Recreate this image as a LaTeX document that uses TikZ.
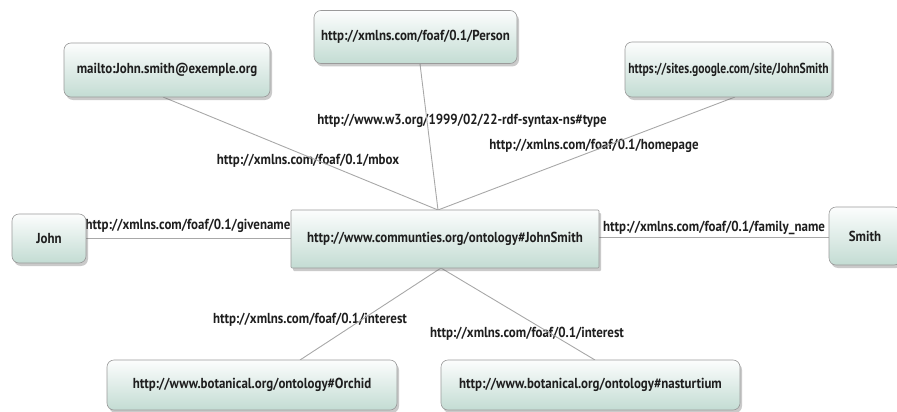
\documentclass[tikz,border=0pt]{standalone}
\usepackage{fontspec}
\newfontfamily\lbl[FakeStretch=0.89]{PT Sans Bold}
\newfontfamily\lblnarrow[FakeStretch=0.80]{PT Sans Bold}
\usetikzlibrary{shadows}
\definecolor{boxbot}{HTML}{C3DCD3}
\definecolor{boxtop}{HTML}{FCFDFD}
\definecolor{linegray}{HTML}{A8A8A8}
\definecolor{bordergray}{HTML}{9A9A9A}
\definecolor{txt}{HTML}{1E1E1E}
\tikzset{
  box/.style={draw=bordergray, line width=0.6pt, rounded corners=7pt, top color=boxtop, bottom color=boxbot,
    drop shadow={shadow xshift=2pt, shadow yshift=-3pt, opacity=0.35, fill=black!60},
    inner sep=0pt, text=txt, font=\lbl\fontsize{14.5}{16}\selectfont, align=center},
  hubbox/.style={box, rounded corners=1pt},
  narrowtext/.style={font=\lblnarrow\fontsize{14.5}{16}\selectfont},
  edge/.style={draw=linegray, line width=0.9pt},
  lab/.style={text=txt, font=\lbl\fontsize{14.5}{16}\selectfont, inner sep=0pt}
}
\begin{document}
\begin{tikzpicture}[x=1pt,y=-1pt]
\useasboundingbox (0,0) rectangle (897,412);
% hub points and line ends
\coordinate (hubT) at (438,210);
\coordinate (hubB) at (441,268);
\coordinate (mailE) at (163,97);
\coordinate (persE) at (420,64);
\coordinate (googE) at (735,97);
\coordinate (orchE) at (300,360);
\coordinate (nastE) at (595,360);
\coordinate (johnE) at (86,238);
\coordinate (smithE) at (829,237);
\coordinate (cenL) at (291,238);
\coordinate (cenR) at (599,237);
% labels
\node[lab] (lgiv) at (188,226) {http://xmlns.com/foaf/0.1/givename};
\node[lab] (lfam) at (714,228) {http://xmlns.com/foaf/0.1/family\_name};
\node[lab] (lmbox) at (308,161) {http://xmlns.com/foaf/0.1/mbox};
\node[lab] (ltype) at (462,121) {http://www.w3.org/1999/02/22-rdf-syntax-ns\#type};
\node[lab] (lhome) at (594,146) {http://xmlns.com/foaf/0.1/homepage};
\node[lab] (lint1) at (310,320) {http://xmlns.com/foaf/0.1/interest};
\node[lab] (lint2) at (527,334) {http://xmlns.com/foaf/0.1/interest};
% edges
\draw[edge] (hubT) -- (mailE);
\draw[edge] (hubT) -- (persE);
\draw[edge] (hubT) -- (googE);
\draw[edge] (hubB) -- (orchE);
\draw[edge] (hubB) -- (nastE);
\draw[edge] (johnE) -- (cenL);
\draw[edge] (cenR) -- (smithE);
% boxes
\node[hubbox, minimum width=308pt, minimum height=58pt] (cen) at (445,239) {http://www.communties.org/ontology\#JohnSmith};
\node[box, minimum width=74pt, minimum height=49pt] (john) at (49,238.5) {John};
\node[box, minimum width=72pt, minimum height=58pt] (smith) at (865,236) {Smith};
\node[box, minimum width=203pt, minimum height=53pt] (pers) at (415.5,37) {http://xmlns.com/foaf/0.1/Person};
\node[box, minimum width=206pt, minimum height=54pt] (mail) at (167,70) {mailto:John.smith@exemple.org};
\node[box, narrowtext, minimum width=207pt, minimum height=55pt] (goog) at (728.5,69.5) {https://sites.google.com/site/JohnSmith};
\node[box, minimum width=290pt, minimum height=50pt] (orch) at (252,385) {http://www.botanical.org/ontology\#Orchid};
\node[box, minimum width=299pt, minimum height=50pt] (nast) at (590.5,385) {http://www.botanical.org/ontology\#nasturtium};
\end{tikzpicture}
\end{document}
